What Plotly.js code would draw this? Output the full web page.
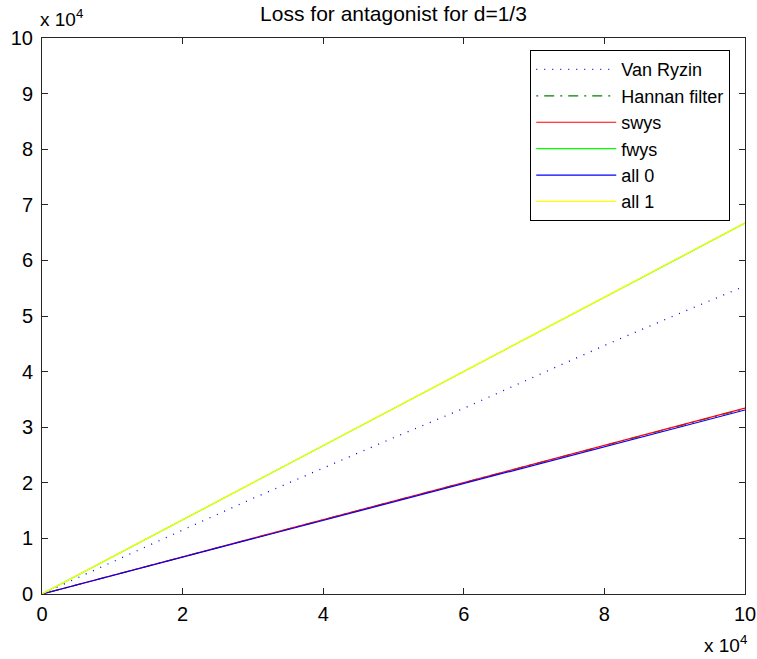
<!DOCTYPE html>
<html><head><meta charset="utf-8">
<script src="https://cdn.plot.ly/plotly-3.0.1.min.js"></script>
<style>html,body{margin:0;padding:0;background:#fff;}#c{width:757px;height:659px;}</style>
</head><body><div id="c"></div>
<script>
const xs = [0,10000,20000,30000,40000,50000,60000,70000,80000,90000,100000];
const vanRyzin = [0,5800,11500,17200,22700,28100,33400,39000,44700,50100,55400];
const hannan   = [0,3360,6700,10030,13360,16690,20020,23360,26700,30020,33360];
const swys     = [0,3340,6680,10010,13330,16650,19980,23320,26640,29970,33420];
const fwys     = [0,6670,13340,20010,26680,33350,40020,46690,53360,60030,66700];
const all0     = [0,3300,6620,9930,13250,16560,19880,23190,26510,29820,33100];
const all1     = [0,6690,13370,20040,26710,33380,40050,46720,53390,60060,66730];
const xTicks = [0,20000,40000,60000,80000,100000];
const xTickText = ['0','2','4','6','8','10'];
const yTicks = [0,10000,20000,30000,40000,50000,60000,70000,80000,90000,100000];
const yTickText = ['0','1','2','3','4','5','6','7','8','9','10'];

const FONT = 'Liberation Sans, Arial, Helvetica, sans-serif';
const traces = [
  {x:xs,y:vanRyzin,name:'Van Ryzin',mode:'lines',line:{color:'#0000ff',width:1.3,dash:'1px,7px'}},
  {x:xs,y:hannan,name:'Hannan filter',mode:'lines',line:{color:'#008000',width:1.2,dash:'2px,6px,10px,6px'}},
  {x:xs,y:swys,name:'swys',mode:'lines',line:{color:'#ff0000',width:1.2}},
  {x:xs,y:fwys,name:'fwys',mode:'lines',line:{color:'#00ff00',width:1.2}},
  {x:xs,y:all0,name:'all 0',mode:'lines',line:{color:'#0000ff',width:1.2}},
  {x:xs,y:all1,name:'all 1',mode:'lines',line:{color:'#ffff00',width:1.2}}
];
const axCommon = {showgrid:false,zeroline:false,showline:true,mirror:'ticks',linecolor:'#262626',linewidth:1,
  ticks:'inside',ticklen:6,tickcolor:'#262626',ticklabeloverflow:'allow',tickfont:{family:FONT,size:20,color:'#000'}};
const layout = {
  width:757,height:659,paper_bgcolor:'#fff',plot_bgcolor:'#fff',
  margin:{l:42,r:12,t:38,b:65},
  title:{text:'Loss for antagonist for d=1/3',font:{family:FONT,size:21,color:'#000'},x:0.5,xref:'paper',yref:'container',y:0.979,yanchor:'middle'},
  xaxis:Object.assign({},axCommon,{range:[0,100000],tickvals:xTicks,ticktext:xTickText,ticklabelstandoff:2}),
  yaxis:Object.assign({},axCommon,{range:[0,100000],tickvals:yTicks,ticktext:yTickText,ticklabelstandoff:4}),
  showlegend:true,
  legend:{x:0.979,y:0.978,xanchor:'right',yanchor:'top',bgcolor:'#fff',bordercolor:'#000',borderwidth:1,
    font:{family:FONT,size:18,color:'#000'},itemwidth:80,tracegroupgap:0},
  annotations:[
    {xref:'paper',yref:'paper',x:0,y:1,xanchor:'left',yanchor:'bottom',yshift:6,xshift:-4,showarrow:false,
     text:'x 10<sup>4</sup>',font:{family:FONT,size:19,color:'#000'}},
    {xref:'paper',yref:'paper',x:1,y:0,xanchor:'right',yanchor:'top',yshift:-36,xshift:4,showarrow:false,
     text:'x 10<sup>4</sup>',font:{family:FONT,size:19,color:'#000'}}
  ]
};
Plotly.newPlot('c',traces,layout,{displayModeBar:false,staticPlot:true});
</script></body></html>
